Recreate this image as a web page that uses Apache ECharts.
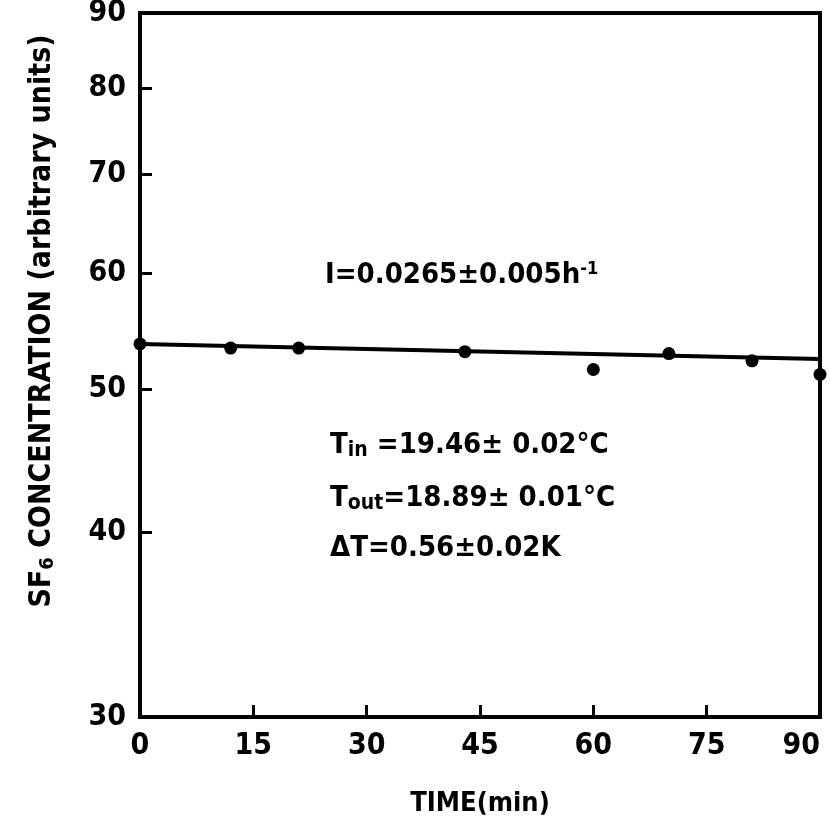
<!DOCTYPE html>
<html>
<head>
<meta charset="utf-8">
<script src="https://cdn.jsdelivr.net/npm/echarts@6/dist/echarts.min.js"></script>
<style>
  html, body { margin: 0; padding: 0; background: #fff; }
  #chart { width: 830px; height: 826px; }
</style>
</head>
<body>
<div id="chart"></div>
<script>
var FONT = "'DejaVu Sans Condensed', 'Liberation Sans Narrow', sans-serif";

// measured points (time in min, SF6 concentration, arbitrary units)
var timeMin = [0, 12, 21, 43, 60, 70, 81, 90];
var concValues = [53.7, 53.35, 53.35, 53.05, 51.6, 52.9, 52.3, 51.2];
// fitted decay line, end points
var fitTime = [0, 90];
var fitValues = [53.7, 52.45];
// axis ticks
var yTicks = [30, 40, 50, 60, 70, 80, 90];

var myChart = echarts.init(document.getElementById('chart'));

var pts = timeMin.map(function (t, i) { return [t, concValues[i]]; });
var fit = fitTime.map(function (t, i) { return [t, fitValues[i]]; });

var option = {
  animation: false,
  backgroundColor: '#fff',
  grid: {
    left: 140, right: 10, top: 13, bottom: 109,
    outerBoundsMode: 'none',
    containLabel: false,
    show: true, borderColor: '#000', borderWidth: 4
  },
  xAxis: {
    type: 'value',
    min: 0, max: 90, interval: 15,
    name: 'TIME(min)',
    nameLocation: 'middle',
    nameGap: 73,
    nameTextStyle: { color: '#000', fontFamily: FONT, fontWeight: 'bold', fontSize: 27 },
    axisLine: { lineStyle: { color: '#000', width: 4 } },
    axisTick: { inside: true, length: 12, lineStyle: { color: '#000', width: 3 } },
    axisLabel: { color: '#000', fontFamily: FONT, fontWeight: 'bold', fontSize: 30, margin: 14,
      alignMaxLabel: 'right' },
    splitLine: { show: false }
  },
  yAxis: {
    type: 'log',
    logBase: 10,
    min: 30, max: 90,
    axisLine: { lineStyle: { color: '#000', width: 4 } },
    axisTick: { inside: true, length: 12, customValues: yTicks, lineStyle: { color: '#000', width: 3 } },
    axisLabel: { color: '#000', fontFamily: FONT, fontWeight: 'bold', fontSize: 30, margin: 14,
      customValues: yTicks,
      formatter: function (v) { return Math.round(v); } },
    splitLine: { show: false },
    minorTick: { show: false }
  },
  graphic: [
    {
      type: 'text', x: 42, y: 321, rotation: Math.PI / 2,
      style: {
        text: 'SF{sub|6} CONCENTRATION (arbitrary units)',
        fill: '#000', font: 'bold 30px ' + FONT,
        align: 'center', verticalAlign: 'middle',
        rich: { sub: { fontSize: 20, fontWeight: 'bold', fontFamily: FONT, verticalAlign: 'bottom', padding: [12, 0, 0, 0] } }
      }
    },
    {
      type: 'text', x: 325, y: 275,
      style: {
        text: 'I=0.0265±0.005h{sup|-1}',
        fill: '#000', font: 'bold 29px ' + FONT,
        verticalAlign: 'middle',
        rich: { sup: { fontSize: 18, fontWeight: 'bold', fontFamily: FONT, verticalAlign: 'top', padding: [0, 0, 12, 0] } }
      }
    },
    {
      type: 'text', x: 330, y: 445,
      style: {
        text: 'T{sub|in} =19.46± 0.02°C',
        fill: '#000', font: 'bold 29px ' + FONT,
        verticalAlign: 'middle',
        rich: { sub: { fontSize: 21, fontWeight: 'bold', fontFamily: FONT, verticalAlign: 'bottom', padding: [12, 0, 0, 0] } }
      }
    },
    {
      type: 'text', x: 330, y: 498,
      style: {
        text: 'T{sub|out}=18.89± 0.01°C',
        fill: '#000', font: 'bold 29px ' + FONT,
        verticalAlign: 'middle',
        rich: { sub: { fontSize: 21, fontWeight: 'bold', fontFamily: FONT, verticalAlign: 'bottom', padding: [12, 0, 0, 0] } }
      }
    },
    {
      type: 'text', x: 330, y: 548,
      style: {
        text: 'ΔT=0.56±0.02K',
        fill: '#000', font: 'bold 29px ' + FONT,
        verticalAlign: 'middle'
      }
    }
  ],
  series: [
    {
      name: 'fit',
      type: 'line',
      data: fit,
      symbol: 'none',
      lineStyle: { color: '#000', width: 4 },
      z: 2
    },
    {
      name: 'SF6',
      type: 'scatter',
      data: pts,
      symbol: 'circle',
      symbolSize: 13,
      itemStyle: { color: '#000', opacity: 1 },
      z: 3
    }
  ]
};

myChart.setOption(option);
</script>
</body>
</html>
